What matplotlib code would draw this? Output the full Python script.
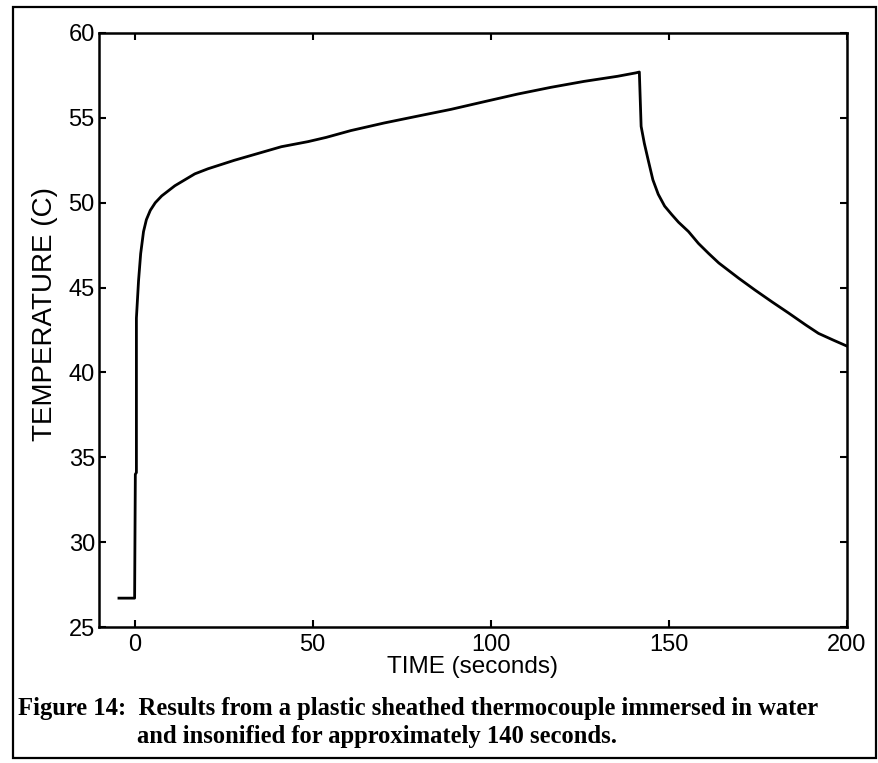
import matplotlib
matplotlib.use("Agg")
import matplotlib.pyplot as plt
from matplotlib.patches import Rectangle

# thermocouple trace
time_s = [-4.4, 0.0, 0.2, 0.5, 0.5, 1.1, 1.7, 2.5, 3.3, 4.4, 5.8, 7.6, 11.3, 16.9,
          20.6, 28.0, 34.6, 41.2, 48.7, 53.8, 60.7, 70.1, 79.4, 88.8, 98.1,
          107.5, 116.9, 126.2, 135.6, 140.7, 141.7, 142.2, 143.1, 144.2, 145.5,
          147.0, 148.8, 150.8, 152.7, 155.5, 158.3, 161.2, 164.0, 169.6, 174.2,
          179.0, 183.6, 188.4, 192.0, 196.2, 200.0]
temp_c = [26.7, 26.7, 34.0, 34.1, 43.2, 45.4, 47.0, 48.3, 49.0, 49.55, 50.0, 50.4,
          51.0, 51.7, 52.0, 52.5, 52.9, 53.3, 53.6, 53.85, 54.25, 54.7, 55.1,
          55.5, 55.95, 56.4, 56.8, 57.15, 57.45, 57.65, 57.7, 54.5, 53.5, 52.5,
          51.35, 50.5, 49.8, 49.3, 48.85, 48.3, 47.6, 47.0, 46.45, 45.55, 44.85,
          44.15, 43.5, 42.8, 42.3, 41.9, 41.55]

x_ticks = [0, 50, 100, 150, 200]
y_ticks = [25, 30, 35, 40, 45, 50, 55, 60]

caption_1 = "Figure 14:  Results from a plastic sheathed thermocouple immersed in water"
caption_2 = "and insonified for approximately 140 seconds."

W, H = 879, 763
fig = plt.figure(figsize=(W / 100, H / 100), dpi=100)
ax = fig.add_axes([99 / W, 1 - 627 / H, (847 - 99) / W, (627 - 33) / H])

ax.plot(time_s, temp_c, color="k", lw=2.0)
ax.set_xlim(-10, 200)
ax.set_ylim(25, 60)
ax.set_xticks(x_ticks)
ax.set_yticks(y_ticks)

lab_font = dict(family=["Liberation Sans", "DejaVu Sans"], size=17)
ax.set_xticklabels([str(t) for t in x_ticks], **lab_font)
ax.set_yticklabels([str(t) for t in y_ticks], **lab_font)
ax.tick_params(direction="in", length=5, width=1.5, top=True, right=True,
               colors="k")
ax.tick_params(axis="x", pad=5)
ax.tick_params(axis="y", pad=3)
for s in ax.spines.values():
    s.set_linewidth(1.8)

ax.set_xlabel("TIME (seconds)", family=["Liberation Sans", "DejaVu Sans"], size=17.5)
ax.set_ylabel("TEMPERATURE (C)", family=["Liberation Sans", "DejaVu Sans"], size=20)
ax.xaxis.set_label_coords((473 - 99) / (847 - 99), -(667 - 627) / (627 - 33))
ax.yaxis.set_label_coords(-(99 - 45) / (847 - 99), (627 - 314) / (627 - 33))
ax.xaxis.label.set_va("center")
ax.yaxis.label.set_va("center")

cap_font = dict(family=["Liberation Serif", "DejaVu Serif"], size=17.7,
                weight="bold", va="center", ha="left")
fig.text(18 / W, 1 - 708 / H, caption_1, **cap_font)
fig.text(137 / W, 1 - 737 / H, caption_2, **cap_font)

# outer frame round the whole figure
fig.add_artist(Rectangle((13 / W, 1 - 758 / H), (876 - 13) / W, (758 - 7) / H,
                         transform=fig.transFigure, fill=False, lw=1.6,
                         edgecolor="k"))

fig.savefig("out.png", dpi=100)
